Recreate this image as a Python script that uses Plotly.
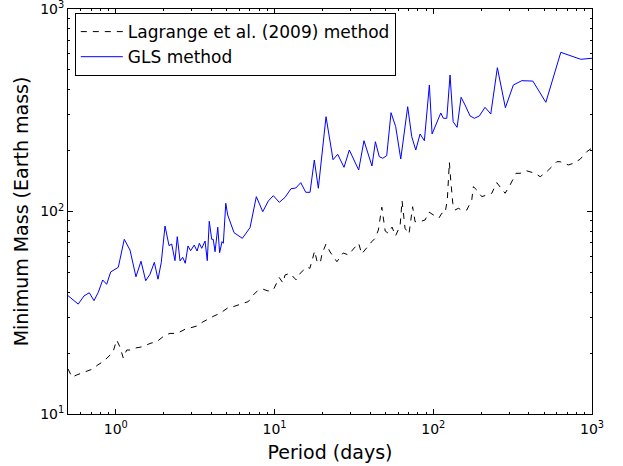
import plotly.graph_objects as go

# GLS method (blue solid)
gls_period = [0.5, 0.580, 0.631, 0.681, 0.729, 0.776, 0.827, 0.876, 0.929, 1.037,
              1.131, 1.229, 1.340, 1.442, 1.543, 1.643, 1.749, 1.845, 1.935, 2.042,
              2.165, 2.25, 2.36, 2.44, 2.54, 2.64, 2.74, 2.85, 2.96, 3.12,
              3.25, 3.36, 3.48, 3.65, 3.77, 3.88, 4.02, 4.11, 4.22, 4.39,
              4.51, 4.67, 4.76, 4.93, 5.07, 5.56, 6.27, 7.01, 7.68, 8.43,
              9.14, 9.83, 10.72, 11.65, 12.70, 13.61, 14.63, 15.73, 16.74, 17.81,
              18.88, 21.11, 23.37, 25.0, 27.4, 29.6, 33.9, 36.6, 41.1, 43.2,
              45.7, 48.1, 50.9, 54.2, 58.0, 62.4, 69.0, 73.2, 77.6, 82.6,
              87.9, 94.5, 98.3, 111.5, 115.8, 121.7, 127.6, 133.4, 141.3, 149.7,
              158.6, 170.5, 181.6, 195.2, 211.9, 230.3, 253.4, 284.7, 319.6, 361.3,
              424, 512, 636, 849, 1000]
gls_mass = [38.4, 34.9, 38.3, 39.7, 36.3, 39.9, 45.9, 43.7, 50.3, 53.0,
            72.9, 64.5, 47.6, 56.8, 45.5, 49.0, 56.1, 46.3, 56.1, 84.8,
            67.8, 69.1, 57.2, 75.1, 57.0, 59.4, 55.5, 67.6, 64.0, 68.3,
            63.8, 69.7, 65.8, 71.5, 57.2, 89.5, 72.9, 72.9, 63.3, 83.6,
            62.6, 71.0, 69.7, 109.8, 96.1, 78.6, 73.7, 83.2, 118.4, 99.8,
            112.7, 119.7, 111.0, 117.5, 129.6, 130.6, 138.8, 124.4, 124.4, 179.6,
            130.2, 293.9, 180.2, 191.6, 165.3, 201.2, 160.3, 223.7, 167.8, 221.1,
            186.5, 183.1, 188.6, 307.6, 262.2, 181.6, 329.2, 234.0, 201.2, 241.4,
            223.7, 421.5, 241.4, 306.5, 288.6, 288.6, 472.2, 277.6, 260.4, 366.4,
            335.7, 296.4, 288.6, 296.4, 327.0, 303.0, 513.0, 325.6, 421.5, 442.6,
            440.6, 346.0, 611.0, 564.5, 571.0]

# Lagrange et al. (2009) method (black dashed)
lag_period = [0.5, 0.530, 0.569, 0.612, 0.668, 0.718, 0.772, 0.830, 0.893, 0.960,
              1.013, 1.063, 1.115, 1.171, 1.247, 1.34, 1.48, 1.643, 1.818, 2.042,
              2.196, 2.43, 2.73, 2.98, 3.25, 3.54, 3.83, 4.16, 4.54, 4.81,
              5.12, 5.50, 5.89, 6.36, 6.84, 7.35, 7.91, 8.50, 9.10, 9.83,
              10.3, 10.7, 11.3, 11.65, 12.5, 13.7, 14.5, 15.2, 16.0, 16.7,
              17.9, 18.5, 19.4, 19.9, 21.1, 22.4, 23.4, 24.7, 27.1, 29.2,
              31.4, 33.9, 35.4, 38.1, 41.0, 43.0, 45.1, 47.4, 49.8, 52.1,
              55.0, 57.8, 61.8, 63.6, 66.4, 70.3, 74.1, 76.8, 82.6, 88.8,
              94.0, 102.5, 108.6, 113.1, 118.6, 122.6, 126.3, 128.8, 132.7, 137.1,
              143.9, 151.2, 162.6, 174.8, 178.9, 187.9, 202.1, 217.3, 233.6, 251.2,
              263.6, 283.5, 304.8, 332.4, 352.6, 384.6, 438.3, 471.6, 519, 558,
              600, 630, 710, 764, 841, 927, 1000]
lag_mass = [16.7, 15.2, 15.6, 15.9, 16.3, 16.7, 17.5, 18.1, 19.1, 20.2,
            23.2, 21.4, 18.9, 20.7, 20.7, 21.2, 21.5, 22.3, 22.8, 24.5,
            25.0, 25.0, 26.2, 26.7, 27.2, 28.5, 29.6, 30.5, 31.4, 32.3,
            33.6, 33.9, 34.5, 35.2, 35.9, 38.7, 41.0, 41.3, 40.5, 41.0,
            43.9, 47.2, 44.4, 48.6, 49.5, 45.9, 49.5, 51.4, 53.2, 52.4,
            63.8, 57.0, 55.5, 61.7, 69.1, 63.1, 60.3, 56.5, 62.4, 61.0,
            65.3, 69.7, 61.7, 66.4, 71.0, 73.7, 81.0, 105.0, 80.1, 78.0,
            83.8, 75.7, 84.8, 113.0, 82.6, 77.4, 105.6, 89.1, 89.1, 90.8,
            99.4, 95.0, 92.9, 98.0, 98.0, 114.0, 175.0, 143.0, 109.8, 101.7,
            103.7, 101.7, 101.7, 114.0, 132.6, 127.7, 118.4, 120.6, 123.0, 138.8,
            132.6, 123.0, 135.2, 154.4, 154.4, 159.1, 154.4, 148.5, 157.3, 166.4,
            176.1, 176.1, 169.8, 173.0, 181.0, 197.4, 205.9]

x_tick_vals = [1, 10, 100, 1000]
x_tick_text = ["10<sup>0</sup>", "10<sup>1</sup>", "10<sup>2</sup>", "10<sup>3</sup>"]
y_tick_vals = [10, 100, 1000]
y_tick_text = ["10<sup>1</sup>", "10<sup>2</sup>", "10<sup>3</sup>"]

minor_x = [m * 10 ** e for e in range(-1, 3) for m in range(2, 10) if 0.5 <= m * 10 ** e <= 1000]
minor_y = [m * 10 ** e for e in range(1, 3) for m in range(2, 10)]

fig = go.Figure()
fig.add_trace(go.Scatter(x=lag_period, y=lag_mass, mode="lines",
                         name="Lagrange et al. (2009) method",
                         line=dict(color="black", width=1, dash="6px,6px")))
fig.add_trace(go.Scatter(x=gls_period, y=gls_mass, mode="lines",
                         name="GLS method",
                         line=dict(color="#0000ff", width=1)))

axis_common = dict(showgrid=False, zeroline=False, showline=True, linecolor="black",
                   linewidth=1, mirror="allticks", ticks="inside", ticklen=5,
                   tickcolor="black", tickwidth=1, automargin=False,
                   ticklabeloverflow="allow",
                   tickfont=dict(family="DejaVu Sans", size=14, color="black"))

fig.update_xaxes(type="log", range=[-0.30103, 3], tickvals=x_tick_vals, ticktext=x_tick_text,
                 minor=dict(ticks="inside", ticklen=2, tickcolor="black", tickvals=minor_x),
                 ticklabelstandoff=2,
                 title=dict(text="Period (days)", font=dict(family="DejaVu Sans", size=19, color="black"),
                            standoff=9),
                 **axis_common)
fig.update_yaxes(type="log", range=[1, 3], tickvals=y_tick_vals, ticktext=y_tick_text,
                 minor=dict(ticks="inside", ticklen=2, tickcolor="black", tickvals=minor_y),
                 title=dict(text="Minimum Mass (Earth mass)", font=dict(family="DejaVu Sans", size=19, color="black"),
                            standoff=6),
                 **axis_common)

fig.update_layout(
    width=623, height=466,
    margin=dict(l=68, r=31, t=9, b=52),
    paper_bgcolor="white", plot_bgcolor="white",
    font=dict(family="DejaVu Sans", color="black"),
    legend=dict(x=0.013, y=0.99, xanchor="left", yanchor="top",
                bgcolor="white", bordercolor="black", borderwidth=1,
                itemwidth=42,
                font=dict(family="DejaVu Sans", size=17, color="black"),
                tracegroupgap=0),
    showlegend=True,
)

fig.write_html("out.html",
               config={"displayModeBar": False, "staticPlot": True},
               post_script="document.body.style.margin='0';document.body.style.overflow='hidden';")
